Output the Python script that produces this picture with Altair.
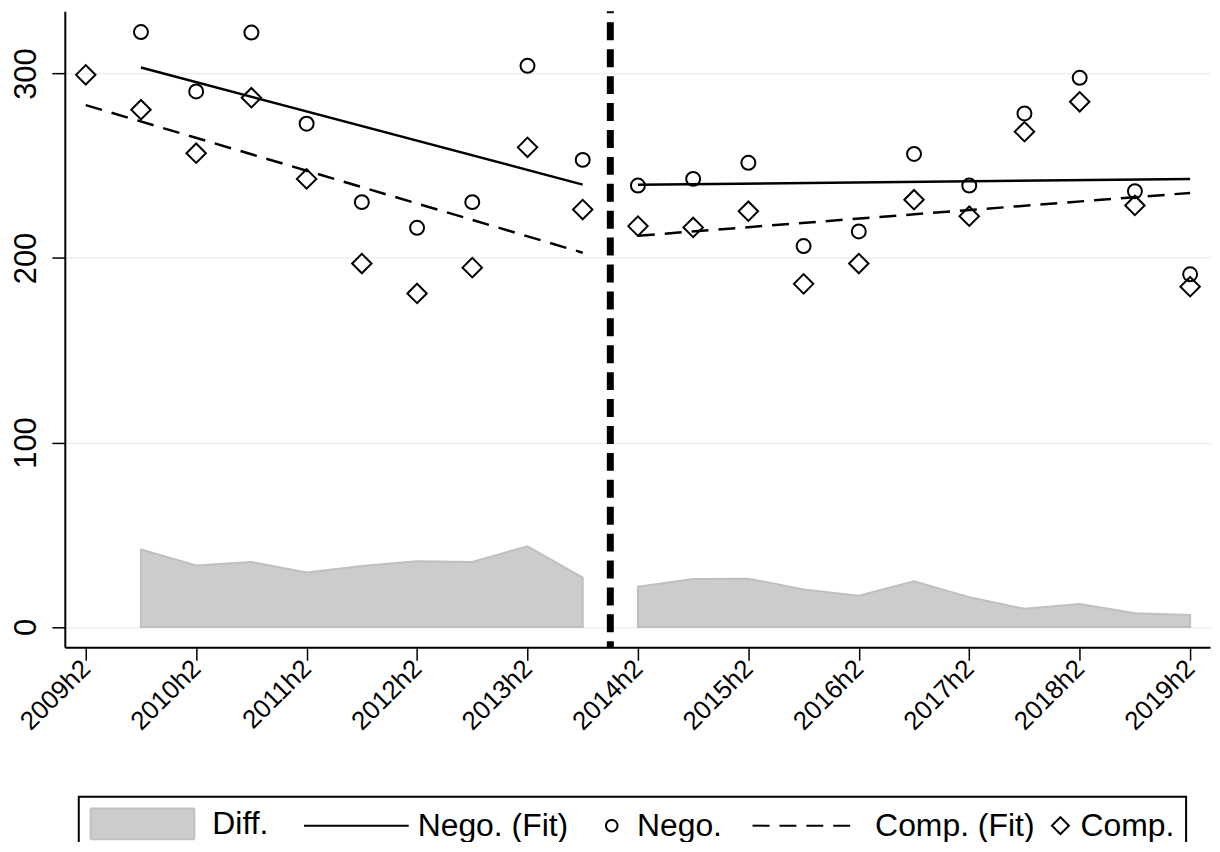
import json
import altair as alt
import pandas as pd

# ---------------- data ----------------
periods = ["2009h2", "2010h1", "2010h2", "2011h1", "2011h2", "2012h1", "2012h2",
           "2013h1", "2013h2", "2014h1", "2014h2", "2015h1", "2015h2", "2016h1",
           "2016h2", "2017h1", "2017h2", "2018h1", "2018h2", "2019h1", "2019h2"]
tick_labels = ["2009h2", "2010h2", "2011h2", "2012h2", "2013h2", "2014h2",
               "2015h2", "2016h2", "2017h2", "2018h2", "2019h2"]
nego = [None, 322.5, 290.3, 322.2, 272.8, 230.3, 216.4, 230.3, 304.2, 253.2,
        239.3, 242.9, 251.6, 206.5, 214.4, 256.4, 239.3, 278.4, 297.7, 236.2, 191.2]
comp = [299.3, 280.4, 256.8, 286.9, 242.9, 197.0, 180.8, 194.8, 260.0, 226.3,
        217.3, 216.6, 225.4, 186.0, 197.0, 231.6, 222.7, 268.5, 284.7, 228.5, 184.5]
diff = [None, 42.0, 33.4, 35.2, 29.6, 33.1, 35.6, 35.2, 43.8, 26.8,
        21.9, 26.0, 26.2, 20.4, 17.0, 24.8, 16.2, 9.9, 12.5, 7.5, 6.6]
fit_nego_x = [1, 9, 10, 20]
fit_nego_y = [303.3, 239.8, 239.7, 242.9]
fit_comp_x = [0, 9, 10, 20]
fit_comp_y = [282.9, 202.9, 212.1, 235.3]
break_position = 9.5
y_ticks = [0, 100, 200, 300]
legend_series = ["Diff.", "Nego. (Fit)", "Nego.", "Comp. (Fit)", "Comp."]

FONT = "Liberation Sans"

# ---------------- tables ----------------
idx = list(range(len(periods)))
seg = ["pre" if i < break_position else "post" for i in idx]
pts = pd.DataFrame({"idx": idx, "period": periods, "nego": nego, "comp": comp,
                    "diff": diff, "segment": seg})
area_df = pts.dropna(subset=["diff"])
nego_df = pts.dropna(subset=["nego"])
fits = pd.DataFrame({
    "idx": fit_nego_x + fit_comp_x,
    "value": fit_nego_y + fit_comp_y,
    "series": [legend_series[1]] * len(fit_nego_x) + [legend_series[3]] * len(fit_comp_x),
    "segment": ["pre" if v < break_position else "post" for v in fit_nego_x + fit_comp_x],
})
rule_df = pd.DataFrame({"idx": [break_position]})
legend_df = pd.DataFrame({"series": legend_series})

# ---------------- scales / axes ----------------
x_scale = alt.Scale(domain=[-0.379, 20.36], nice=False, zero=False)
y_scale = alt.Scale(domain=[-10.97, 333.7], nice=False, zero=False)
label_expr = f"{json.dumps(periods)}[datum.value]"
x_axis = alt.Axis(values=[periods.index(t) for t in tick_labels], labelExpr=label_expr,
                  grid=False, title=None, labelAngle=315, labelAlign="right",
                  labelBaseline="middle", labelPadding=4, labelFontSize=26,
                  labelFont=FONT, labelColor="black", tickSize=13, tickWidth=1.5,
                  tickColor="black", domainColor="black", domainWidth=2)
y_axis = alt.Axis(values=y_ticks, grid=True, gridColor="#e9f1f3", gridWidth=1.6,
                  title=None, labelAngle=270, labelAlign="center",
                  labelBaseline="bottom", labelPadding=9, labelFontSize=31,
                  labelFont=FONT, labelColor="black", tickSize=13, tickWidth=1.5,
                  tickColor="black", domainColor="black", domainWidth=2)


def X():
    return alt.X("idx:Q", scale=x_scale, axis=x_axis)


def Y(field):
    return alt.Y(field, scale=y_scale, axis=y_axis)


# ---------------- layers ----------------
area = alt.Chart(area_df).mark_area(color="#cccccc", stroke="#bfbfbf", strokeWidth=2).encode(
    x=X(), y=Y("diff:Q"), y2=alt.datum(0), detail="segment:N")

nego_fit = alt.Chart(fits).transform_filter(
    alt.datum.series == legend_series[1]).mark_line(color="black", strokeWidth=2.5).encode(
    x=X(), y=Y("value:Q"), detail="segment:N")

comp_fit = alt.Chart(fits).transform_filter(
    alt.datum.series == legend_series[3]).mark_line(
    color="black", strokeWidth=2.5, strokeDash=[17, 10]).encode(
    x=X(), y=Y("value:Q"), detail="segment:N")

nego_pts = alt.Chart(nego_df).mark_point(
    shape="circle", size=196, filled=False, color="black", strokeWidth=2, opacity=1).encode(
    x=X(), y=Y("nego:Q"))

comp_pts = alt.Chart(pts).mark_point(
    shape="diamond", size=380, filled=False, color="black", strokeWidth=2, opacity=1).encode(
    x=X(), y=Y("comp:Q"))

rule = alt.Chart(rule_df).mark_rule(
    color="black", strokeWidth=7, strokeDash=[18, 9], strokeDashOffset=16).encode(x=X())

# ---------------- legend symbols ----------------
U = 15.0
C0 = 16.0


def f(v):
    return f"{v:.4f}".rstrip("0").rstrip(".")


def px(v):
    return f((v - C0) / U)


def rect_path(left, w, h):
    return f"M{px(left)},{f(-h / 2 / U)}H{px(left + w)}V{f(h / 2 / U)}H{px(left)}Z"


def hline_path(left, w):
    return f"M{px(left)},0H{px(left + w)}"


def circle_path(left, d):
    r = d / 2
    c = left + r
    k = 0.5523 * r
    return (f"M{px(c + r)},0C{px(c + r)},{f(k / U)},{px(c + k)},{f(r / U)},{px(c)},{f(r / U)}"
            f"C{px(c - k)},{f(r / U)},{px(c - r)},{f(k / U)},{px(c - r)},0"
            f"C{px(c - r)},{f(-k / U)},{px(c - k)},{f(-r / U)},{px(c)},{f(-r / U)}"
            f"C{px(c + k)},{f(-r / U)},{px(c + r)},{f(-k / U)},{px(c + r)},0Z")


def diamond_path(left, w):
    r = w / 2
    c = left + r
    return f"M{px(c + r)},0L{px(c)},{f(-r / U)}L{px(c - r)},0L{px(c)},{f(r / U)}Z"


legend_shapes = [rect_path(1, 104, 31), hline_path(23, 105), circle_path(25, 11.5),
                 hline_path(18, 100), diamond_path(5.4, 17)]
legend_label_offsets = [91, 105, 24, 109, 2]
label_offset_expr = (f"{json.dumps(legend_label_offsets)}"
                     f"[indexof({json.dumps(legend_series)}, datum.value)]")

common_legend = alt.Legend(
    title=None, orient="none", legendX=14, legendY=788, direction="horizontal",
    columns=5, strokeColor="black", padding=11, labelFontSize=32, labelFont=FONT,
    labelColor="black", labelOffset={"expr": label_offset_expr}, columnPadding=12,
    labelLimit=500, symbolSize=900, symbolStrokeWidth=2, symbolOpacity=1,
    symbolFillColor="transparent", symbolStrokeColor="black")

dummy = alt.Chart(legend_df).mark_point(opacity=0).encode(
    fill=alt.Fill("series:N", scale=alt.Scale(
        domain=legend_series,
        range=["#cccccc", "transparent", "transparent", "transparent", "transparent"]),
        legend=common_legend),
    stroke=alt.Stroke("series:N", scale=alt.Scale(
        domain=legend_series, range=["#bfbfbf", "black", "black", "black", "black"]),
        legend=common_legend),
    shape=alt.Shape("series:N", scale=alt.Scale(domain=legend_series, range=legend_shapes),
                    legend=common_legend),
    strokeDash=alt.StrokeDash("series:N", scale=alt.Scale(
        domain=legend_series, range=[[1, 0], [1, 0], [1, 0], [17, 10], [1, 0]]),
        legend=common_legend),
)

chart = alt.layer(area, nego_fit, comp_fit, nego_pts, comp_pts, rule, dummy).properties(
    width=1149, height=638,
    autosize=alt.AutoSizeParams(type="none"),
    padding={"left": 57, "top": 2, "right": 2, "bottom": 194},
    background="white",
).configure_view(strokeWidth=0).configure_legend(strokeWidth=2)

chart.save("out.html", embed_options={"renderer": "svg", "actions": False})
